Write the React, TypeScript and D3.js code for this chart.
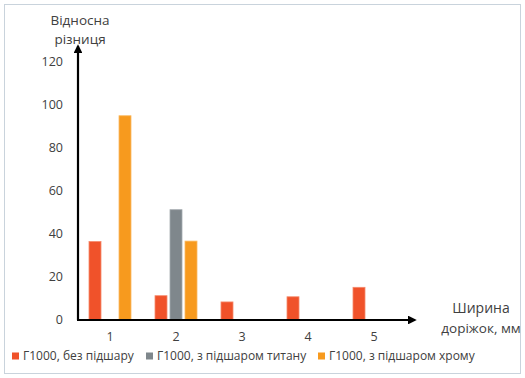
import React from "react";
import * as d3 from "d3";

const categories = ["1", "2", "3", "4", "5"];
const seriesNames = [
  "Г1000, без підшару",
  "Г1000, з підшаром титану",
  "Г1000, з підшаром хрому",
];
const noSublayer = [36.5, 11.3, 8.4, 10.8, 15.2];
const titaniumSublayer = [0, 51.3, 0, 0, 0];
const chromeSublayer = [95, 36.7, 0, 0, 0];
const yTicks = [0, 20, 40, 60, 80, 100, 120];

const seriesValues = [noSublayer, titaniumSublayer, chromeSublayer];
const colors = ["#F0522A", "#7F878C", "#F79A1E"];
const strokes = ["#F58A6C", "#A3AAAE", "#FBBA63"];

const W = 525;
const H = 378;

export default function App() {
  const x = d3.scaleBand<string>().domain(categories).range([77, 407]);
  const y = d3.scaleLinear().domain([0, 120]).range([320, 62]);
  const groupHalf = 21;
  const x1 = d3
    .scaleBand<number>()
    .domain([0, 1, 2])
    .range([-groupHalf, groupHalf])
    .paddingInner(0.2);

  const font = "'Open Sans', 'DejaVu Sans', sans-serif";
  const textColor = "#404040";

  const legendX = [12, 146, 318];

  return (
    <svg
      width={W}
      height={H}
      style={{ position: "absolute", left: 0, top: 0 }}
      fontFamily={font}
    >
      <rect x={0} y={0} width={W} height={H} fill="#fff" />
      <rect
        x={4.5}
        y={4.5}
        width={W - 9}
        height={H - 9}
        fill="none"
        stroke="#C9D3DC"
        strokeWidth={1}
      />

      {/* Bars */}
      {seriesValues.map((vals, si) =>
        vals.map((v, ci) =>
          v > 0 ? (
            <rect
              key={`${si}-${ci}`}
              x={x(categories[ci])! + x.bandwidth() / 2 + x1(si)!}
              y={y(v)}
              width={x1.bandwidth()}
              height={y(0) - y(v)}
              fill={colors[si]}
              stroke={strokes[si]}
              strokeWidth={0.8}
            />
          ) : null
        )
      )}

      {/* Axes with arrows */}
      <defs>
        <marker
          id="arrow"
          viewBox="0 0 10 10"
          refX={8}
          refY={5}
          markerWidth={4}
          markerHeight={4}
          orient="auto"
        >
          <path d="M0,0 L10,5 L0,10 Z" fill="#000" />
        </marker>
      </defs>
      <line
        x1={78}
        y1={y(0)}
        x2={78}
        y2={46}
        stroke="#000"
        strokeWidth={2.2}
        markerEnd="url(#arrow)"
      />
      <line
        x1={77}
        y1={y(0)}
        x2={415}
        y2={y(0)}
        stroke="#000"
        strokeWidth={2.2}
        markerEnd="url(#arrow)"
      />

      {/* Y tick labels */}
      {yTicks.map((t) => (
        <text
          key={t}
          x={63}
          y={y(t)}
          dy="0.35em"
          textAnchor="end"
          fontSize={12.5}
          fill={textColor}
        >
          {t}
        </text>
      ))}

      {/* X tick labels */}
      {categories.map((c) => (
        <text
          key={c}
          x={x(c)! + x.bandwidth() / 2}
          y={337}
          dy="0.35em"
          textAnchor="middle"
          fontSize={12.5}
          fill={textColor}
        >
          {c}
        </text>
      ))}

      {/* Axis titles */}
      <text x={80} y={20} dy="0.35em" textAnchor="middle" fontSize={13.5} fill={textColor}>
        Відносна
      </text>
      <text x={80} y={39} dy="0.35em" textAnchor="middle" fontSize={13.5} fill={textColor}>
        різниця
      </text>
      <text x={481} y={308} dy="0.35em" textAnchor="middle" fontSize={14} fill={textColor}>
        Ширина
      </text>
      <text x={481} y={328} dy="0.35em" textAnchor="middle" fontSize={13.5} fill={textColor}>
        доріжок, мм
      </text>

      {/* Legend */}
      {seriesNames.map((name, i) => (
        <g key={name} transform={`translate(${legendX[i]},356)`}>
          <rect x={0} y={-3.5} width={7} height={7} fill={colors[i]} />
          <text x={11} y={0} dy="0.35em" fontSize={12} fill={textColor}>
            {name}
          </text>
        </g>
      ))}
    </svg>
  );
}
